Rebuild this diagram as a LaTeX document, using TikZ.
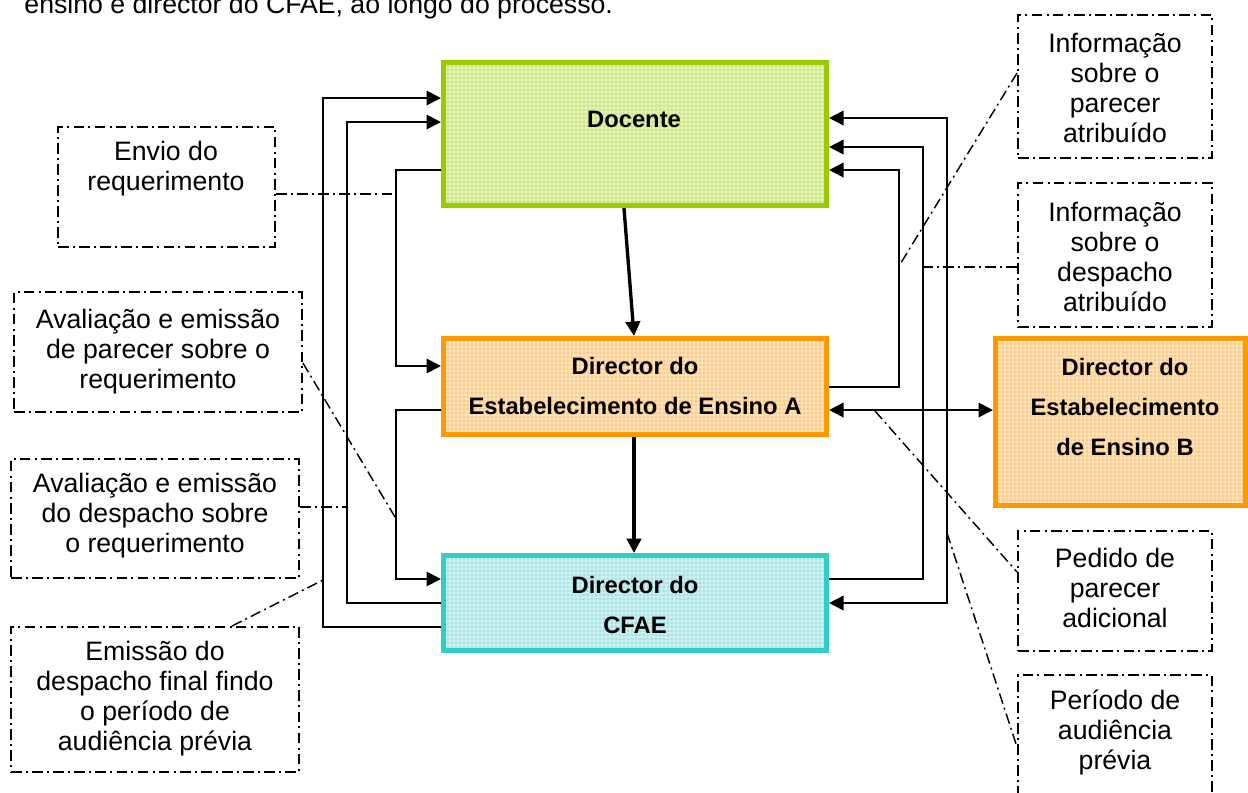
\documentclass[tikz,border=0pt]{standalone}
\usepackage{fontspec}
\setmainfont{Liberation Sans}
\usetikzlibrary{arrows.meta,fit,patterns.meta}
\definecolor{docfill}{HTML}{CBE67F}
\definecolor{docline}{HTML}{99CC00}
\definecolor{orfill}{HTML}{FCCB85}
\definecolor{orline}{HTML}{FF9900}
\definecolor{cyfill}{HTML}{A6E3E3}
\definecolor{cyline}{HTML}{33CCCC}
\tikzdeclarepattern{
  name=wgrid,
  type=uncolored,
  bounding box={(0pt,0pt) and (2pt,2pt)},
  tile size={(2pt,2pt)},
  code={
    \draw[line width=0.45pt] (0pt,1pt) -- (2pt,1pt);
    \draw[line width=0.45pt] (1pt,0pt) -- (1pt,2pt);
  }
}
\begin{document}
\begin{tikzpicture}[x=0.45pt,y=-0.45pt,
  mainbox/.style={draw, line width=2.3pt, inner sep=0pt},
  texfill/.style={preaction={fill=#1}, preaction={pattern=wgrid, pattern color=white!85!#1}},
  lblbox/.style={draw, line width=0.85pt, dash pattern=on 4.8pt off 1.9pt on 0.9pt off 1.9pt, inner sep=0pt},
  lbltext/.style={align=center, font=\fontsize{12}{13.5}\selectfont, inner sep=0pt},
  boldtext/.style={align=center, font=\fontsize{10.7}{18.2}\selectfont\bfseries, inner sep=0pt},
  conn/.style={line width=0.9pt},
  tip/.style={-{Triangle[length=6.5pt,width=6.5pt]}},
  bothtips/.style={{Triangle[length=6.5pt,width=6.5pt]}-{Triangle[length=6.5pt,width=6.5pt]}},
  bigarrow/.style={line width=1.5pt, -{Triangle[length=6.5pt,width=6.5pt]}},
  leader/.style={line width=0.65pt, dash pattern=on 4.8pt off 1.9pt on 0.9pt off 1.9pt}
]
\useasboundingbox (0,0) rectangle (1248,792);

% top text (cut by page edge)
\node[anchor=base west, font=\fontsize{12}{14}\selectfont, inner sep=0pt] (toptext) at (24,13.5) {ensino e director do CFAE, ao longo do processo.};

% main boxes
\node[mainbox, draw=docline, texfill=docfill, fit={(443.5,62.5) (826.5,205.5)}] (doc) {};
\node[mainbox, draw=orline, texfill=orfill, fit={(443.5,338.5) (826.5,434.5)}] (dA) {};
\node[mainbox, draw=cyline, texfill=cyfill, fit={(443.5,555.5) (826.5,650.5)}] (cfae) {};
\node[mainbox, draw=orline, texfill=orfill, fit={(995.5,338.5) (1245.5,505.5)}] (dB) {};

\node[boldtext] (tdoc) at (634,119) {Docente};
\node[boldtext] (tdA) at (635,386) {Director do\\Estabelecimento de Ensino A};
\node[boldtext] (tcfae) at (635,605) {Director do\\CFAE};
\node[boldtext] (tdB) at (1125,407) {Director do\\Estabelecimento\\de Ensino B};

% label boxes
\node[lblbox, fit={(58,127) (275,247)}] (l1) {};
\node[lblbox, fit={(14,292) (302,412)}] (l2) {};
\node[lblbox, fit={(11,459) (299,578)}] (l3) {};
\node[lblbox, fit={(11,627) (299,772)}] (l4) {};
\node[lblbox, fit={(1018,15) (1212,158)}] (l5) {};
\node[lblbox, fit={(1018,183) (1212,327)}] (l6) {};
\node[lblbox, fit={(1018,531) (1212,651)}] (l7) {};
\node[lblbox, fit={(1018,675) (1212,830)}] (l8) {};

\node[lbltext] (t1) at (166,169) {Envio do\\requerimento};
\node[lbltext] (t2) at (158,352) {Avaliação e emissão\\de parecer sobre o\\requerimento};
\node[lbltext] (t3) at (155,516) {Avaliação e emissão\\do despacho sobre\\o requerimento};
\node[lbltext] (t4) at (155,699) {Emissão do\\despacho final findo\\o período de\\audiência prévia};
\node[lbltext] (t5) at (1115,88) {Informação\\sobre o\\parecer\\atribuído};
\node[lbltext] (t6) at (1115,257) {Informação\\sobre o\\despacho\\atribuído};
\node[lbltext] (t7) at (1115,588) {Pedido de\\parecer\\adicional};
\node[lbltext] (t8) at (1115,732) {Período de\\audiência\\prévia};

% connectors, left side
\draw[conn, tip] (doc.west |- 0,170) -- (396,170) -- (396,366) -- (dA.west |- 0,366);
\draw[conn, tip] (dA.west |- 0,410) -- (396,410) -- (396,579) -- (cfae.west |- 0,579);
\draw[conn, tip] (cfae.west |- 0,603) -- (347,603) -- (347,122) -- (doc.west |- 0,122);
\draw[conn, tip] (cfae.west |- 0,627) -- (323,627) -- (323,98) -- (doc.west |- 0,98);

% connectors, right side
\draw[conn, tip] (dA.east |- 0,387) -- (899,387) -- (899,170) -- (doc.east |- 0,170);
\draw[conn, tip] (cfae.east |- 0,579) -- (923,579) -- (923,147) -- (doc.east |- 0,147);
\draw[conn, bothtips] (doc.east |- 0,118) -- (947,118) -- (947,603) -- (cfae.east |- 0,603);
\draw[conn, bothtips] (dA.east |- 0,410) -- (dB.west |- 0,410);

% thick arrows
\draw[bigarrow] (doc.south -| 624,0) -- (dA.north -| 634,0);
\draw[bigarrow] (dA.south -| 634,0) -- (cfae.north -| 634,0);

% leader lines
\coordinate (k1) at (396,194);
\coordinate (k2) at (395,517);
\coordinate (k3) at (347,507);
\coordinate (k4) at (323,580);
\coordinate (k5) at (899,266);
\coordinate (k6) at (923,267);
\coordinate (k7) at (875,411);
\coordinate (k8) at (947,533);
\draw[leader] (l1.east |- k1) -- (k1);
\draw[leader] (l2.east |- 0,363) -- (k2);
\draw[leader] (l3.east |- k3) -- (k3);
\draw[leader] (l4.north -| 232,0) -- (k4);
\draw[leader] (l5.west |- 0,73) -- (k5);
\draw[leader] (l6.west |- k6) -- (k6);
\draw[leader] (k7) -- (l7.west |- 0,572);
\draw[leader] (k8) -- (l8.west |- 0,747);
\end{tikzpicture}
\end{document}
